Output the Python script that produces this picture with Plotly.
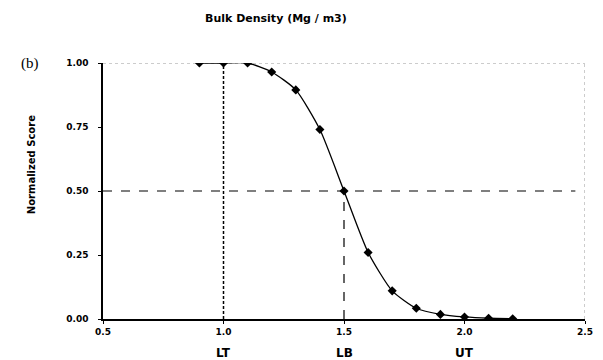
import plotly.graph_objects as go

# Bulk density scoring curve (more-is-worse)
bulk_density = [0.9, 1.0, 1.1, 1.2, 1.3, 1.4, 1.5, 1.6, 1.7, 1.8, 1.9, 2.0, 2.1, 2.2]
normalized_score = [1.0, 1.0, 1.0, 0.965, 0.895, 0.74, 0.50, 0.26, 0.11, 0.042, 0.018, 0.008, 0.003, 0.001]

x_ticks = [0.5, 1.0, 1.5, 2.0, 2.5]
x_tick_text = ["0.5", "1.0", "1.5", "2.0", "2.5"]
y_ticks = [0.0, 0.25, 0.5, 0.75, 1.0]
y_tick_text = ["0.00", "0.25", "0.50", "0.75", "1.00"]

threshold_names = ["LT", "LB", "UT"]
threshold_values = [1.0, 1.5, 2.0]

FONT = "DejaVu Sans, Arial, sans-serif"

L, R, T, B = 103, 10, 63, 41
PW, PH = 603 - L - R, 360 - T - B

fig = go.Figure()

fig.add_trace(go.Scatter(
    x=bulk_density, y=normalized_score,
    mode="lines+markers",
    line=dict(color="black", width=1.3, shape="spline", smoothing=0.6),
    marker=dict(symbol="diamond", size=7, color="black"),
    showlegend=False,
))

# reference lines: lower threshold, baseline, midpoint
fig.add_shape(type="line", xref="x", yref="y", x0=1.0, x1=1.0, y0=0, y1=1.0,
              line=dict(color="black", width=1.5, dash="3px,2px"))
fig.add_shape(type="line", xref="x", yref="y", x0=1.5, x1=1.5, y0=0, y1=0.5,
              line=dict(color="black", width=1.2, dash="dash"))
fig.add_shape(type="line", xref="x", yref="y", x0=0.5, x1=2.46, y0=0.5, y1=0.5,
              line=dict(color="black", width=1.2, dash="dash"))

# dotted frame on top and right
fig.add_shape(type="line", xref="x", yref="y", x0=0.5, x1=2.5, y0=1.0, y1=1.0,
              line=dict(color="#999999", width=1, dash="dot"), layer="below")
fig.add_shape(type="line", xref="x", yref="y", x0=2.5, x1=2.5, y0=0, y1=1.0,
              line=dict(color="#999999", width=1, dash="dot"), layer="below")

annotations = [
    dict(text="<b>Bulk Density (Mg / m3)</b>", xref="paper", yref="paper",
         x=(279 - L) / PW, y=1 + (T - 18) / PH, showarrow=False,
         font=dict(family=FONT, size=11, color="black"), xanchor="center", yanchor="middle"),
    dict(text="(b)", xref="paper", yref="paper",
         x=(29 - L) / PW, y=1.0, showarrow=False,
         font=dict(family="Liberation Serif, Times New Roman, serif", size=15, color="black"),
         xanchor="center", yanchor="middle"),
    dict(text="<b>Normalized Score</b>", xref="paper", yref="paper",
         x=(30 - L) / PW, y=(360 - B - 165) / PH, showarrow=False, textangle=-90,
         font=dict(family=FONT, size=10, color="black"), xanchor="center", yanchor="middle"),
]
for name, val in zip(threshold_names, threshold_values):
    annotations.append(dict(text="<b>" + name + "</b>", xref="x", yref="paper",
                            x=val, y=-(353 - (360 - B)) / PH, showarrow=False,
                            font=dict(family=FONT, size=12, color="black"),
                            xanchor="center", yanchor="middle"))

fig.update_layout(
    width=603, height=360,
    margin=dict(l=L, r=R, t=T, b=B),
    paper_bgcolor="white", plot_bgcolor="white",
    annotations=annotations,
    xaxis=dict(range=[0.5, 2.5], tickvals=x_ticks, ticktext=x_tick_text,
               showgrid=False, zeroline=False, showline=True, linecolor="black", linewidth=1.5,
               ticks="outside", ticklen=3, tickcolor="black",
               tickfont=dict(family=FONT, size=9, color="black", weight="bold")),
    yaxis=dict(range=[0, 1.0], tickvals=y_ticks, ticktext=y_tick_text,
               showgrid=False, zeroline=False, showline=True, linecolor="black", linewidth=1.5,
               ticks="outside", ticklen=3, tickcolor="black", ticklabelstandoff=8,
               tickfont=dict(family=FONT, size=9, color="black", weight="bold")),
)

fig.write_html("out.html")
